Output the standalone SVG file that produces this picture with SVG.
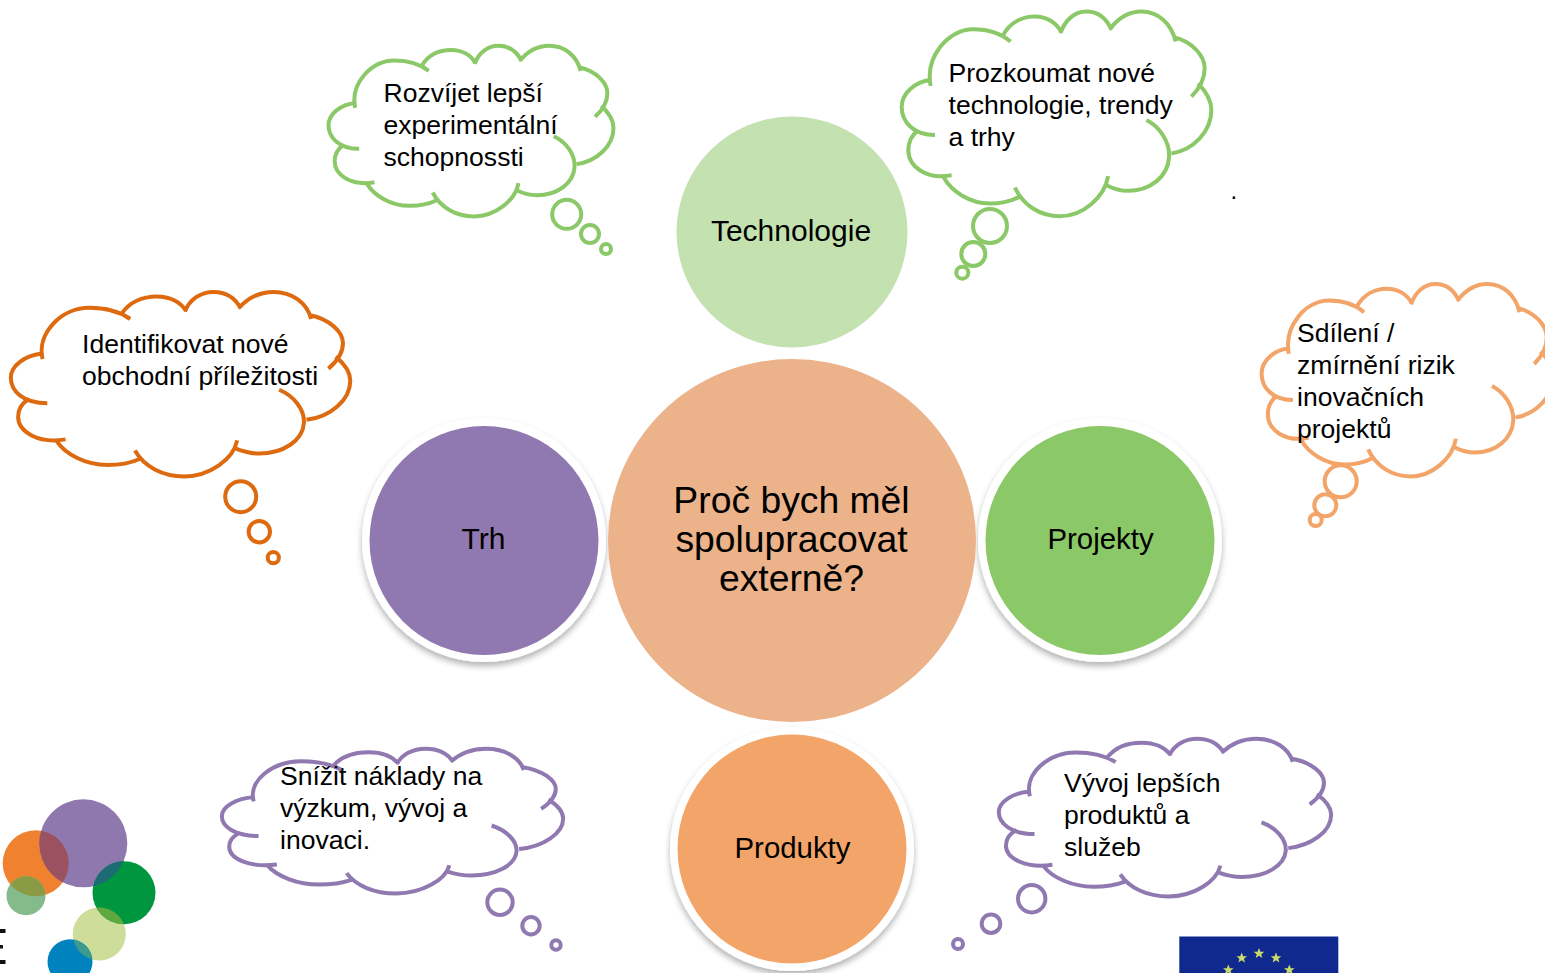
<svg xmlns="http://www.w3.org/2000/svg" width="1545" height="973" viewBox="0 0 1545 973">
<style>
text{font-family:"Liberation Sans",Arial,sans-serif;fill:#000}
.t{font-size:26.55px}
.n{font-size:30px;text-anchor:middle}
.m{font-size:29.4px;text-anchor:middle}
.c{font-size:37.3px;text-anchor:middle}
.cl{fill:none;stroke-width:4}
.b{fill:none;stroke-width:4}
.g{stroke:#8BC867}.o{stroke:#DE6A10}.l{stroke:#F3A468}.p{stroke:#9079B1}
.star{fill:#C9DC6A}
</style>
<defs>
<path id="cloud" vector-effect="non-scaling-stroke" d="M122 258C105 170 175 88 250 88C295 88 335 102 362 125M340 105C360 70 395 50 435 50C470 50 500 68 515 98M512 100C525 60 555 35 590 35C625 35 650 55 665 90M660 88C685 55 715 35 755 35C805 35 845 70 858 125M852 112C910 125 945 170 945 205C945 240 925 270 905 290M925 250C950 275 965 300 965 330C965 395 910 450 845 460M770 360C810 380 840 425 838 470C835 530 780 572 715 572C690 572 670 565 650 555M655 528C645 590 580 648 510 648C450 648 400 615 375 562M388 590C360 605 330 610 300 610C240 610 185 575 160 530M185 525C110 540 55 500 55 450C55 425 65 405 85 390M135 405C70 405 35 365 35 320C35 280 75 245 122 240"/>
<filter id="sh" x="-15%" y="-15%" width="130%" height="130%"><feDropShadow dx="0" dy="4" stdDeviation="3" flood-color="#000" flood-opacity=".3"/></filter>
<polygon id="s" class="star" points="0,-5.5 1.5,-1.8 5.3,-1.7 2.3,.7 3.3,4.4 0,2.3 -3.3,4.4 -2.3,.7 -5.3,-1.7 -1.5,-1.8"/>
<clipPath id="cOrange"><circle cx="35.7" cy="863.3" r="33"/></clipPath>
<clipPath id="cGreen"><circle cx="124" cy="892.7" r="31.5"/></clipPath>
<clipPath id="cPale"><circle cx="99.3" cy="934" r="26.5"/></clipPath>
</defs>

<g id="logo">
<circle cx="35.7" cy="863.3" r="33" fill="#F0812F"/>
<circle cx="83.3" cy="843.3" r="44" fill="#8F78AD"/>
<circle cx="26" cy="895.7" r="19.5" fill="#85BB8C"/>
<circle cx="99.3" cy="934" r="26.5" fill="#CFDD9A"/>
<circle cx="124" cy="892.7" r="31.5" fill="#009640"/>
<circle cx="70" cy="961.7" r="22.5" fill="#0082BE"/>
<circle cx="83.3" cy="843.3" r="44" fill="#9A5160" clip-path="url(#cOrange)"/>
<circle cx="26" cy="895.7" r="19.5" fill="#8A9A45" clip-path="url(#cOrange)"/>
<circle cx="83.3" cy="843.3" r="44" fill="#1C6B75" clip-path="url(#cGreen)"/>
<circle cx="99.3" cy="934" r="26.5" fill="#5FA93E" clip-path="url(#cGreen)"/>
<circle cx="70" cy="961.7" r="22.5" fill="#3C9A8F" clip-path="url(#cPale)"/>
<rect x="0" y="929" width="5.5" height="4" fill="#111"/>
<rect x="0" y="945" width="3" height="3.5" fill="#111"/>
<rect x="0" y="960" width="5.5" height="4" fill="#111"/>
</g>

<g id="eu-flag">
<rect x="1179.3" y="936.5" width="159" height="40" fill="#10298E"/>
<use href="#s" x="1259" y="953.5"/>
<use href="#s" x="1241.7" y="958"/>
<use href="#s" x="1276" y="958"/>
<use href="#s" x="1228.3" y="970"/>
<use href="#s" x="1289.3" y="970"/>
</g>

<g id="connectors"></g>

<g id="node-technologie">
<circle cx="792" cy="232" r="115.5" fill="#C3E2B0"/>
<text class="n" x="791" y="241">Technologie</text>
</g>
<g id="node-trh">
<circle cx="484" cy="540" r="122" fill="#fff" filter="url(#sh)"/>
<circle cx="484" cy="540.5" r="114.5" fill="#9079B1"/>
<text class="n" x="483.5" y="549">Trh</text>
</g>
<g id="node-projekty">
<circle cx="1100" cy="540" r="122" fill="#fff" filter="url(#sh)"/>
<circle cx="1100" cy="540.5" r="114.5" fill="#8BC867"/>
<text class="m" x="1100.5" y="549">Projekty</text>
</g>
<g id="node-produkty">
<circle cx="792" cy="849" r="122" fill="#fff" filter="url(#sh)"/>
<circle cx="792" cy="849" r="114.5" fill="#F3A468"/>
<text class="m" x="792.5" y="858">Produkty</text>
</g>
<g id="node-center">
<ellipse cx="792" cy="540.5" rx="184" ry="181.5" fill="#ECB289"/>
<text class="c" x="791.5" y="513">Proč bych měl</text>
<text class="c" x="791.5" y="552">spolupracovat</text>
<text class="c" x="791.5" y="591">externě?</text>
</g>

<g id="bubble-rozvijet">
<use href="#cloud" class="cl g" transform="translate(327 45) scale(.3064 .2783) translate(-30 -32)"/>
<circle class="b g" cx="566.7" cy="214.3" r="14.5"/><circle class="b g" cx="590" cy="234" r="9"/><circle class="b g" cx="606" cy="249" r="5"/>
<text class="t" x="383.5" y="101.5">Rozvíjet lepší</text>
<text class="t" x="383.5" y="133.5">experimentální</text>
<text class="t" x="383.5" y="165.5">schopnossti</text>
</g>
<g id="bubble-prozkoumat">
<use href="#cloud" class="cl g" transform="translate(900 10.5) scale(.333 .334) translate(-30 -32)"/>
<circle class="b g" cx="990" cy="226" r="17"/><circle class="b g" cx="973.3" cy="254" r="12"/><circle class="b g" cx="962.3" cy="272.7" r="6"/>
<text class="t" x="948.5" y="81.7">Prozkoumat nové</text>
<text class="t" x="948.5" y="113.7">technologie, trendy</text>
<text class="t" x="948.5" y="145.7">a trhy</text>
</g>
<text id="dot" x="1230.5" y="199" style="font-size:24px">.</text>
<g id="bubble-identifikovat">
<use href="#cloud" class="cl o" transform="translate(9 291) scale(.365 .301) translate(-30 -32)"/>
<circle class="b o" cx="240.7" cy="496.7" r="15.5"/><circle class="b o" cx="259.3" cy="531.7" r="10.7"/><circle class="b o" cx="273.3" cy="557.7" r="5.6"/>
<text class="t" x="82" y="353.3">Identifikovat nové</text>
<text class="t" x="82" y="385.3">obchodní příležitosti</text>
</g>
<g id="bubble-sdileni">
<use href="#cloud" class="cl l" transform="translate(1260 283) scale(.3134 .314) translate(-30 -32)"/>
<circle class="b l" cx="1340.7" cy="481.3" r="16"/><circle class="b l" cx="1325.3" cy="505.3" r="11"/><circle class="b l" cx="1315.7" cy="520" r="6"/>
<text class="t" x="1297" y="341.7">Sdílení /</text>
<text class="t" x="1297" y="373.7">zmírnění rizik</text>
<text class="t" x="1297" y="405.7">inovačních</text>
<text class="t" x="1297" y="437.7">projektů</text>
</g>
<g id="bubble-snizit">
<use href="#cloud" class="cl p" transform="translate(220 748) scale(.367 .2362) translate(-30 -32)"/>
<circle class="b p" cx="500" cy="902.3" r="12.7"/><circle class="b p" cx="531" cy="925.7" r="8.7"/><circle class="b p" cx="556" cy="945" r="4.7"/>
<text class="t" x="280" y="785">Snížit náklady na</text>
<text class="t" x="280" y="817">výzkum, vývoj a</text>
<text class="t" x="280" y="849">inovaci.</text>
</g>
<g id="bubble-vyvoj">
<use href="#cloud" class="cl p" transform="translate(997 738) scale(.3574 .2573) translate(-30 -32)"/>
<circle class="b p" cx="1031.7" cy="898.7" r="13.7"/><circle class="b p" cx="991" cy="923.7" r="9.3"/><circle class="b p" cx="958" cy="944" r="5"/>
<text class="t" x="1064" y="791.7">Vývoj lepších</text>
<text class="t" x="1064" y="823.7">produktů a</text>
<text class="t" x="1064" y="855.7">služeb</text>
</g>
</svg>
